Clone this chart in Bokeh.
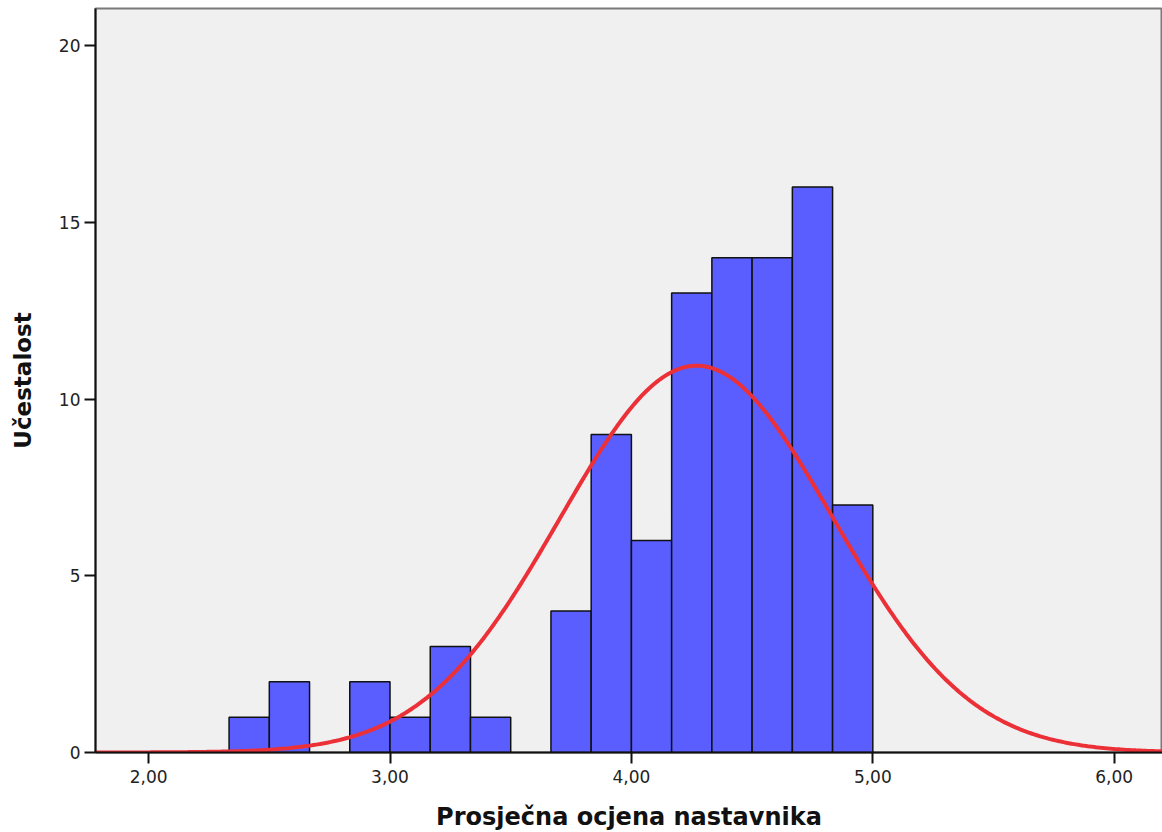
import numpy as np
from bokeh.plotting import figure
from bokeh.models import Range1d, FixedTicker
from bokeh.embed import file_html
from bokeh.resources import INLINE

# Data
bin_edges = [7/3, 2.5, 8/3, 17/6, 3.0, 19/6, 10/3, 3.5, 11/3, 23/6, 4.0, 25/6, 13/3, 4.5, 14/3, 29/6, 5.0]
counts = [1, 2, 0, 2, 1, 3, 1, 0, 4, 9, 6, 13, 14, 14, 16, 7]
fit_mean = 4.27
fit_sd = 0.565
n_total = sum(counts)
x_ticks = [2, 3, 4, 5, 6]
x_tick_labels = ["2,00", "3,00", "4,00", "5,00", "6,00"]
y_ticks = [0, 5, 10, 15, 20]
x_label = "Prosječna ocjena nastavnika"
y_label = "Učestalost"

p = figure(width=1162, height=832, output_backend="svg", toolbar_location=None,
           x_range=Range1d(1.78, 6.20), y_range=Range1d(0, 21.05),
           min_border_left=95, min_border_right=0, min_border_top=8, min_border_bottom=80)
p.frame_width = 1067
p.frame_height = 744
p.background_fill_color = "#f0f0f0"
p.border_fill_color = "white"
p.outline_line_color = "#7a7a7a"
p.outline_line_width = 2
p.xgrid.visible = False
p.ygrid.visible = False

lefts = [bin_edges[i] for i in range(len(counts))]
rights = [bin_edges[i + 1] for i in range(len(counts))]
nz = [i for i, c in enumerate(counts) if c > 0]
p.quad(left=[lefts[i] for i in nz], right=[rights[i] for i in nz],
       bottom=0, top=[counts[i] for i in nz],
       fill_color="#5a5eff", line_color="#111111", line_width=1.5)

bw = bin_edges[1] - bin_edges[0]
xs = np.linspace(1.78, 6.20, 400)
ys = n_total * bw / (fit_sd * np.sqrt(2 * np.pi)) * np.exp(-0.5 * ((xs - fit_mean) / fit_sd) ** 2)
p.line(xs, ys, line_color="#ec3038", line_width=4)

for ax in (p.xaxis[0], p.yaxis[0]):
    ax.axis_line_color = "#111111"
    ax.axis_line_width = 2
    ax.major_tick_line_color = "#111111"
    ax.major_tick_line_width = 2
    ax.major_tick_out = 11
    ax.major_tick_in = 0
    ax.minor_tick_line_color = None
    ax.major_label_text_font = "DejaVu Sans"
    ax.major_label_text_font_size = "17px"
    ax.major_label_text_color = "#222222"
    ax.axis_label_text_font = "DejaVu Sans"
    ax.axis_label_text_font_style = "bold"
    ax.axis_label_text_font_size = "23px"
    ax.axis_label_text_color = "#111111"

p.xaxis.ticker = FixedTicker(ticks=x_ticks)
p.xaxis.major_label_overrides = {t: l for t, l in zip(x_ticks, x_tick_labels)}
p.xaxis.axis_label = x_label
p.xaxis.axis_label_text_font_size = "24px"
p.xaxis.major_label_standoff = 6
p.xaxis.axis_label_standoff = 17

p.yaxis.ticker = FixedTicker(ticks=y_ticks)
p.yaxis.axis_label = y_label
p.yaxis.major_label_standoff = 4
p.yaxis.axis_label_standoff = 20

open("out.html", "w").write(file_html(p, INLINE))
